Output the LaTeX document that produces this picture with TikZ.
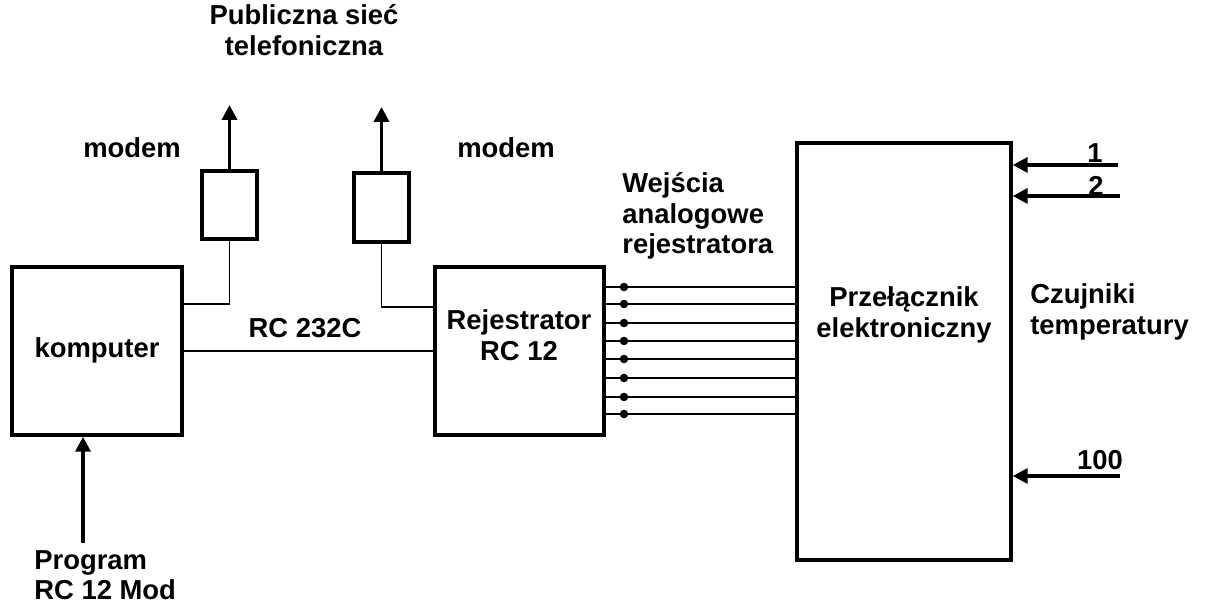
\documentclass[tikz,border=0pt]{standalone}
\usepackage{fontspec}
\setmainfont{Liberation Sans}
\usetikzlibrary{arrows.meta,positioning,calc}

\begin{document}
\begin{tikzpicture}[
    x=0.02cm,y=-0.02cm,
    every node/.style={font=\fontsize{15.6}{17.5}\selectfont\bfseries},
    blk/.style = {rectangle,draw,line width=2pt,inner sep=0pt},
    txt/.style = {align=center,inner sep=0pt},
    wire/.style = {line width=0.8pt},
    sig/.style = {-{Triangle[length=0.3cm,width=0.3cm]},line width=2pt},
  ]
  \useasboundingbox (0,0) rectangle (1221,604);

  % Bloki
  \node[blk,minimum width=3.4cm,minimum height=3.36cm] (komp) at (97,351) {};
  \node[txt] (kompt) at (97,350) {komputer};
  \node[blk,minimum width=1.1cm,minimum height=1.36cm] (mod1) at (229.5,205) {};
  \node[blk,minimum width=1.1cm,minimum height=1.38cm] (mod2) at (381.5,207.5) {};
  \node[blk,minimum width=3.38cm,minimum height=3.36cm] (rej) at (519.5,351) {};
  \node[txt] (rejt) at (519,335) {Rejestrator\\RC 12};
  \node[blk,minimum width=4.28cm,minimum height=8.34cm] (przel) at (904,351.5) {};
  \node[txt] (przelt) at (904,315) {Przełącznik\\elektroniczny};

  % Opisy
  \node[txt] (siec) at (304,30) {Publiczna sieć\\telefoniczna};
  \node[txt] (modt1) at (132,148) {modem};
  \node[txt] (modt2) at (506,148) {modem};
  \node[txt] (rs) at (305,328) {RC 232C};
  \node[txt,align=left,anchor=west] (wej) at (622,216) {Wejścia\\analogowe\\rejestratora};
  \node[txt,align=left,anchor=west] (czuj) at (1030,312) {Czujniki\\temperatury};
  \node[txt,align=left,anchor=north west] (prog) at (34,550) {Program\\RC 12 Mod};

  % Modemy
  \coordinate (n1) at (mod1.north |- 0,105);
  \coordinate (n2) at (mod2.north |- 0,107);
  \draw[sig] (mod1.north) -- (n1);
  \draw[sig] (mod2.north) -- (n2);
  \draw[wire] (mod1.south) |- ([yshift=0.94cm]komp.east);
  \draw[wire] (mod2.south) |- ([yshift=0.88cm]rej.west);
  \draw[wire] (komp.east) -- (rej.west);

  % Program
  \coordinate (p) at (83,543);
  \draw[sig] (p) -- (p |- komp.south);

  % Wejscia analogowe
  \foreach \y in {287,304,323,341,359,378,397,414} {
    \draw[wire] (rej.east |- 0,\y) -- (przel.west |- 0,\y);
    \fill (624,\y) circle (0.085cm);
  }

  % Czujniki
  \coordinate (s1) at (1118,165);
  \coordinate (s2) at (1120,196);
  \coordinate (s100) at (1120,476);
  \draw[sig] (s1) -- (s1 -| przel.east);
  \draw[sig] (s2) -- (s2 -| przel.east);
  \draw[sig] (s100) -- (s100 -| przel.east);
  \node[txt] (l1) at (1095,153) {1};
  \node[txt] (l2) at (1096,186) {2};
  \node[txt] (l100) at (1100,460) {100};

\end{tikzpicture}
\end{document}
